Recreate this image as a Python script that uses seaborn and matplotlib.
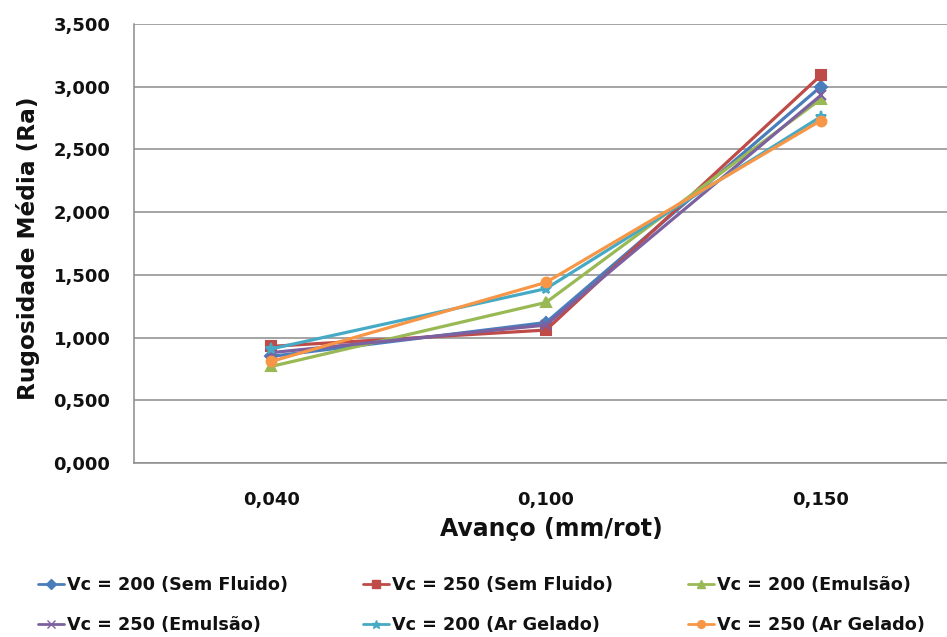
import matplotlib
matplotlib.use("Agg")
import matplotlib.pyplot as plt
import seaborn as sns
import pandas as pd
from matplotlib.lines import Line2D

categories = ["0,040", "0,100", "0,150"]
series_names = [
    "Vc = 200 (Sem Fluido)",
    "Vc = 250 (Sem Fluido)",
    "Vc = 200 (Emulsão)",
    "Vc = 250 (Emulsão)",
    "Vc = 200 (Ar Gelado)",
    "Vc = 250 (Ar Gelado)",
]
sem200 = [0.85, 1.12, 3.00]
sem250 = [0.93, 1.06, 3.09]
emu200 = [0.77, 1.28, 2.90]
emu250 = [0.88, 1.10, 2.93]
ar200 = [0.91, 1.39, 2.76]
ar250 = [0.81, 1.44, 2.73]
yticks = [0.0, 0.5, 1.0, 1.5, 2.0, 2.5, 3.0, 3.5]
ytick_labels = ["0,000", "0,500", "1,000", "1,500", "2,000", "2,500", "3,000", "3,500"]

colors = ["#4A7EBB", "#BE4B48", "#98B954", "#7D60A0", "#46AAC5", "#F79646"]
markers = ["D", "s", "^", "x", "*", "o"]
msizes = [6, 7, 7, 7, 8, 7]

sns.set_style("white")
plt.rcParams["font.family"] = ["DejaVu Sans"]

all_vals = [sem200, sem250, emu200, emu250, ar200, ar250]
rows = []
for name, vals in zip(series_names, all_vals):
    for c, v in zip(categories, vals):
        rows.append({"Avanço": c, "Ra": v, "Série": name})
df = pd.DataFrame(rows)

fig = plt.figure(figsize=(9.47, 6.37), dpi=100)
ax = fig.add_axes([134 / 947, 1 - 463 / 637, (958 - 134) / 947, (463 - 24) / 637])

for name, col, mk, ms in zip(series_names, colors, markers, msizes):
    sub = df[df["Série"] == name]
    sns.lineplot(data=sub, x="Avanço", y="Ra", ax=ax, color=col, marker=mk,
                 markersize=ms, markeredgecolor=col, markeredgewidth=1.5,
                 linewidth=2.3, legend=False, sort=False)

ax.set_xlim(-0.5, 2.5)
ax.set_ylim(0, 3.5)
ax.set_yticks(yticks)
ax.set_yticklabels(ytick_labels)
ax.yaxis.grid(True, color="#8C8C8C", linewidth=1.1)
ax.xaxis.grid(False)
for s in ["top", "right"]:
    ax.spines[s].set_visible(False)
for s in ["left", "bottom"]:
    ax.spines[s].set_color("#8C8C8C")
    ax.spines[s].set_linewidth(1.1)
ax.set_axisbelow(True)
ax.tick_params(axis="both", length=0, labelsize=13, labelcolor="#111111")
ax.tick_params(axis="y", pad=17)
ax.tick_params(axis="x", pad=20)
for lab in ax.get_xticklabels() + ax.get_yticklabels():
    lab.set_fontweight("bold")
ax.set_xlabel("")
ax.set_ylabel("")
fig.text(28 / 947, 1 - 248 / 637, "Rugosidade Média (Ra)", rotation=90,
         ha="center", va="center", fontsize=16.7, fontweight="bold", color="#111111")
fig.text(551 / 947, 1 - 536 / 637, "Avanço (mm/rot)", ha="center",
         va="baseline", fontsize=17, fontweight="bold", color="#111111")

handles = [Line2D([], [], color=c, marker=m, markersize=ms * 0.8,
                  markeredgecolor=c, linewidth=2.0)
           for c, m, ms in zip(colors, markers, msizes)]
col_x = [38, 363, 688]
for i in range(3):
    idx = [i, i + 3]
    leg = fig.legend([handles[j] for j in idx], [series_names[j] for j in idx],
                     loc="center left", bbox_to_anchor=(col_x[i] / 947, 1 - 605 / 637),
                     frameon=False, handlelength=1.5, handletextpad=0.12,
                     labelspacing=1.28, borderpad=0, borderaxespad=0,
                     prop={"family": "DejaVu Sans", "weight": "bold", "size": 12.7})
    for t in leg.get_texts():
        t.set_color("#111111")

fig.savefig("out.png", dpi=100)
